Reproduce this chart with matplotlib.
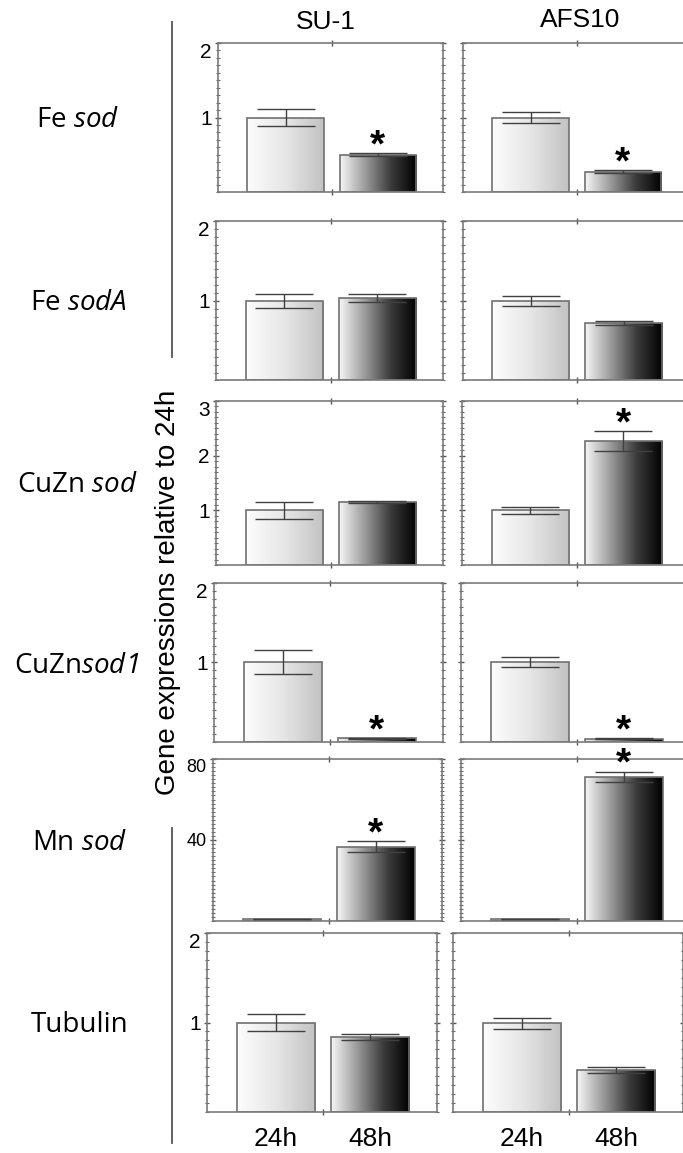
import numpy as np
import matplotlib
matplotlib.use('Agg')
import matplotlib.pyplot as plt
from matplotlib.colors import LinearSegmentedColormap
from matplotlib.lines import Line2D
from matplotlib.ticker import FixedLocator, MultipleLocator

# ---------------- data ----------------
genes = ['Fe $\\mathsf{sod}$', 'Fe $\\mathsf{sodA}$', 'CuZn $\\mathsf{sod}$',
         'CuZn$\\mathsf{sod1}$', 'Mn $\\mathsf{sod}$', 'Tubulin']
strains = ['SU-1', 'AFS10']
times = ['24h', '48h']

su1_24h = [1.00, 1.00, 1.00, 1.00, 1.0, 1.00]
su1_24h_err = [0.11, 0.09, 0.16, 0.15, 0.2, 0.10]
su1_48h = [0.50, 1.03, 1.15, 0.04, 36.7, 0.84]
su1_48h_err = [0.02, 0.05, 0.02, 0.005, 2.6, 0.03]
su1_sig = [True, False, False, True, True, False]

afs_24h = [1.00, 1.00, 1.00, 1.00, 1.0, 0.99]
afs_24h_err = [0.07, 0.06, 0.06, 0.06, 0.1, 0.06]
afs_48h = [0.27, 0.72, 2.27, 0.035, 71.2, 0.47]
afs_48h_err = [0.02, 0.02, 0.18, 0.005, 2.6, 0.03]
afs_sig = [True, False, True, True, True, False]

y_max = [2, 2, 3, 2, 80, 2]
y_labels = [[1, 2], [1, 2], [1, 2, 3], [1, 2], [40, 80], [1, 2]]
y_minor = [0.1, 0.1, 0.1, 0.1, 2, 0.1]

# ---------------- layout (pixels) ----------------
W, H = 683, 1153
rows_px = [(43, 192), (221, 380.5), (401, 565), (583, 741.5), (759, 921), (933, 1112)]
left_px = [218, 216, 216, 214, 213, 207]
right_px = [463, 462.5, 462, 461, 461, 453]
width_px = [225, 227, 227, 229, 229, 230]

bar_pos = [0.30, 0.71]
bar_w = 0.34
mid_tick = 0.505

plt.rcParams['mathtext.fontset'] = 'custom'
plt.rcParams['mathtext.rm'] = 'Open Sans'
plt.rcParams['mathtext.it'] = 'Open Sans:italic'
plt.rcParams['mathtext.sf'] = 'Open Sans:italic'

fig = plt.figure(figsize=(W / 100, H / 100), dpi=100)

cm1 = LinearSegmentedColormap.from_list('g1', ['#fdfdfd', '#e6e6e6', '#c2c2c2'])
cm2 = LinearSegmentedColormap.from_list('g2', ['#f6f6f6', '#9a9a9a', '#3a3a3a', '#000000'])
spine_c = '#7a7a7a'


def grad_fill(ax, rect, cmap):
    x0, y0 = rect.get_x(), rect.get_y()
    w, h = rect.get_width(), rect.get_height()
    g = np.linspace(0, 1, 256).reshape(1, -1)
    im = ax.imshow(g, extent=[x0, x0 + w, y0, y0 + h], aspect='auto', cmap=cmap,
                   vmin=0, vmax=1, origin='lower', zorder=1, interpolation='bilinear')
    im.set_clip_path(rect)


data_sets = [
    (su1_24h, su1_24h_err, su1_48h, su1_48h_err, su1_sig),
    (afs_24h, afs_24h_err, afs_48h, afs_48h_err, afs_sig),
]

for r in range(6):
    top, bot = rows_px[r]
    for c in range(2):
        lx = left_px[r] if c == 0 else right_px[r]
        ax = fig.add_axes([lx / W, 1 - bot / H, width_px[r] / W, (bot - top) / H])
        m24, e24, m48, e48, sig = data_sets[c]
        vals = [m24[r], m48[r]]
        errs = [e24[r], e48[r]]
        bars = ax.bar(bar_pos, vals, width=bar_w, facecolor='none',
                      edgecolor='#707070', linewidth=1.2, zorder=2)
        for b, cm in zip(bars, [cm1, cm2]):
            grad_fill(ax, b, cm)
        ax.errorbar(bar_pos, vals, yerr=errs, fmt='none', ecolor='#404040',
                    elinewidth=1.0, capsize=21, capthick=1.0, zorder=3)
        if sig[r]:
            ax.annotate('*', xy=(bar_pos[1], vals[1] + errs[1]), xytext=(0, -8),
                        textcoords='offset points', ha='center', va='bottom',
                        fontsize=28, fontweight='bold', family='Liberation Sans',
                        annotation_clip=False, zorder=5)
        ax.set_xlim(0, 1)
        ax.set_ylim(0, y_max[r])
        for s in ax.spines.values():
            s.set_color(spine_c)
            s.set_linewidth(1.2)
        ax.yaxis.set_major_locator(FixedLocator(y_labels[r]))
        ax.yaxis.set_minor_locator(MultipleLocator(y_minor[r]))
        ax.tick_params(axis='y', which='major', direction='inout', length=5,
                       width=1, color='#555555', left=True, right=True,
                       labelsize=15 if y_max[r] < 10 else 13, pad=2)
        ax.tick_params(axis='y', which='minor', direction='inout', length=2.5,
                       width=0.8, color='#666666', left=True, right=True)
        if c == 1:
            ax.set_yticklabels([])
        else:
            for lab in ax.get_yticklabels():
                lab.set_family('Liberation Sans')
            ax.get_yticklabels()[-1].set_va('top')
        ax.xaxis.set_minor_locator(FixedLocator([mid_tick]))
        ax.tick_params(axis='x', which='minor', direction='inout', length=5,
                       width=1, color='#555555', top=True, bottom=True)
        if r == 5:
            ax.set_xticks(bar_pos)
            ax.set_xticklabels(times, family='Liberation Sans', fontsize=19)
            ax.tick_params(axis='x', which='major', length=0, pad=11)
        else:
            ax.set_xticks([])

# column titles
fig.text(326 / W, 1 - 22 / H, strains[0], ha='center', va='center',
         fontsize=19, family='Liberation Sans')
fig.text(580 / W, 1 - 20 / H, strains[1], ha='center', va='center',
         fontsize=19, family='Liberation Sans')

# row labels
row_label_y = [120, 303, 485, 666, 843, 1025]
row_label_x = [78, 78, 77, 77, 80, 80]
for g, yy, xx in zip(genes, row_label_y, row_label_x):
    fig.text(xx / W, 1 - yy / H, g, ha='center', va='center', fontsize=20,
             family='Open Sans')

# y axis label
fig.text(168 / W, 1 - 592 / H, 'Gene expressions relative to 24h', rotation=90,
         ha='center', va='center', fontsize=20, family='Liberation Sans')

# bracket lines
for y0, y1 in [(22, 357), (828, 1143)]:
    fig.add_artist(Line2D([172 / W, 172 / W], [1 - y0 / H, 1 - y1 / H],
                          color='#555555', lw=1.3, transform=fig.transFigure))

fig.savefig('out.png', dpi=100)
